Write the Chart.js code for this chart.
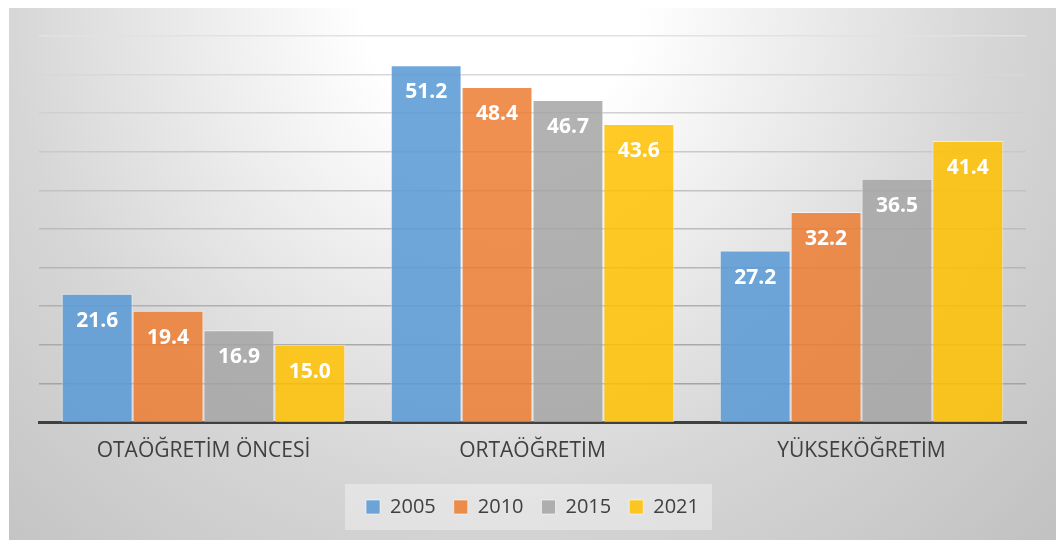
<!DOCTYPE html>
<html>
<head>
<meta charset="utf-8">
<script src="https://cdn.jsdelivr.net/npm/chart.js@4.4.0/dist/chart.umd.min.js"></script>
<style>
  html, body { margin: 0; padding: 0; background: #ffffff; }
  #wrap { width: 1062px; height: 540px; position: relative; }
</style>
</head>
<body>
<div id="wrap"><canvas id="myChart" width="1062" height="540"></canvas></div>
<script>
// categories and series
const categories = ["OTAÖĞRETİM ÖNCESİ", "ORTAÖĞRETİM", "YÜKSEKÖĞRETİM"];
const years = ["2005", "2010", "2015", "2021"];
const values2005 = [21.6, 51.2, 27.2];
const values2010 = [19.4, 48.4, 32.2];
const values2015 = [16.9, 46.7, 36.5];
const values2021 = [15.0, 43.6, 41.4];
const seriesColors = ["rgba(91,155,213,0.88)", "rgba(237,125,49,0.85)", "rgba(165,165,165,0.85)", "rgba(255,192,0,0.85)"];

const allSeries = [values2005, values2010, values2015, values2021];

// radial grey background of the chart frame
const backgroundPlugin = {
  id: "frameBackground",
  beforeDraw(chart) {
    const ctx = chart.ctx;
    ctx.save();
    const g = ctx.createRadialGradient(500, 0, 0, 500, 0, 760);
    g.addColorStop(0, "#ffffff");
    g.addColorStop(0.18, "#ffffff");
    g.addColorStop(0.65, "#d6d6d6");
    g.addColorStop(1, "#c2c2c2");
    ctx.fillStyle = g;
    ctx.fillRect(9, 8, 1047, 532);

    // light box behind the legend items
    const boxes = chart.legend && chart.legend.legendHitBoxes;
    if (boxes && boxes.length) {
      const left = Math.min(...boxes.map(b => b.left)) - 21;
      const right = Math.max(...boxes.map(b => b.left + b.width)) + 13;
      const top = Math.min(...boxes.map(b => b.top));
      const bottom = Math.max(...boxes.map(b => b.top + b.height));
      const mid = (top + bottom) / 2;
      ctx.fillStyle = "rgba(255,255,255,0.35)";
      ctx.fillRect(left, mid - 23, right - left, 46);
    }
    ctx.restore();
  }
};

// white value labels just inside the top of each bar
const valueLabels = {
  id: "valueLabels",
  afterDatasetsDraw(chart) {
    const ctx = chart.ctx;
    ctx.save();
    ctx.font = "bold 21px 'Open Sans'";
    ctx.fillStyle = "#ffffff";
    ctx.textAlign = "center";
    ctx.textBaseline = "middle";
    chart.data.datasets.forEach((ds, i) => {
      chart.getDatasetMeta(i).data.forEach((bar, j) => {
        ctx.fillText(ds.data[j].toFixed(1), bar.x, bar.y + 27);
      });
    });
    ctx.restore();
  }
};

const gridColors = ["#9c9c9c", "#a4a4a4", "#aaaaaa", "#b0b0b0", "#b6b6b6", "#bcbcbc", "#c2c2c2", "#c9c9c9", "#d0d0d0", "#d8d8d8", "#e2e2e2"];

const ctx = document.getElementById("myChart").getContext("2d");
new Chart(ctx, {
  type: "bar",
  data: {
    labels: categories,
    datasets: years.map((y, i) => ({
      label: y,
      data: allSeries[i],
      backgroundColor: seriesColors[i],
      borderColor: "rgba(255,255,255,0.55)",
      borderWidth: 1,
      categoryPercentage: 0.862,
      barPercentage: 1.0
    }))
  },
  options: {
    responsive: false,
    animation: false,
    layout: {
      padding: { left: 39, right: 36, top: 36, bottom: 13 }
    },
    plugins: {
      legend: {
        position: "bottom",
        labels: {
          boxWidth: 14,
          boxHeight: 14,
          padding: 18,
          color: "#404040",
          font: { family: "'Open Sans'", size: 20 }
        }
      },
      tooltip: { enabled: false }
    },
    scales: {
      x: {
        grid: { display: false, drawTicks: false },
        border: { display: true, color: "#404040", width: 3 },
        ticks: {
          color: "#404040",
          padding: 16,
          font: { family: "'Open Sans'", size: 21 }
        },
        afterFit(scale) { scale.height = 57; }
      },
      y: {
        min: 5,
        max: 55,
        ticks: { display: false, stepSize: 5 },
        border: { display: false },
        grid: {
          drawTicks: false,
          lineWidth: 1.5,
          color: c => gridColors[c.index] || "#c0c0c0"
        }
      }
    }
  },
  plugins: [backgroundPlugin, valueLabels]
});
</script>
</body>
</html>
